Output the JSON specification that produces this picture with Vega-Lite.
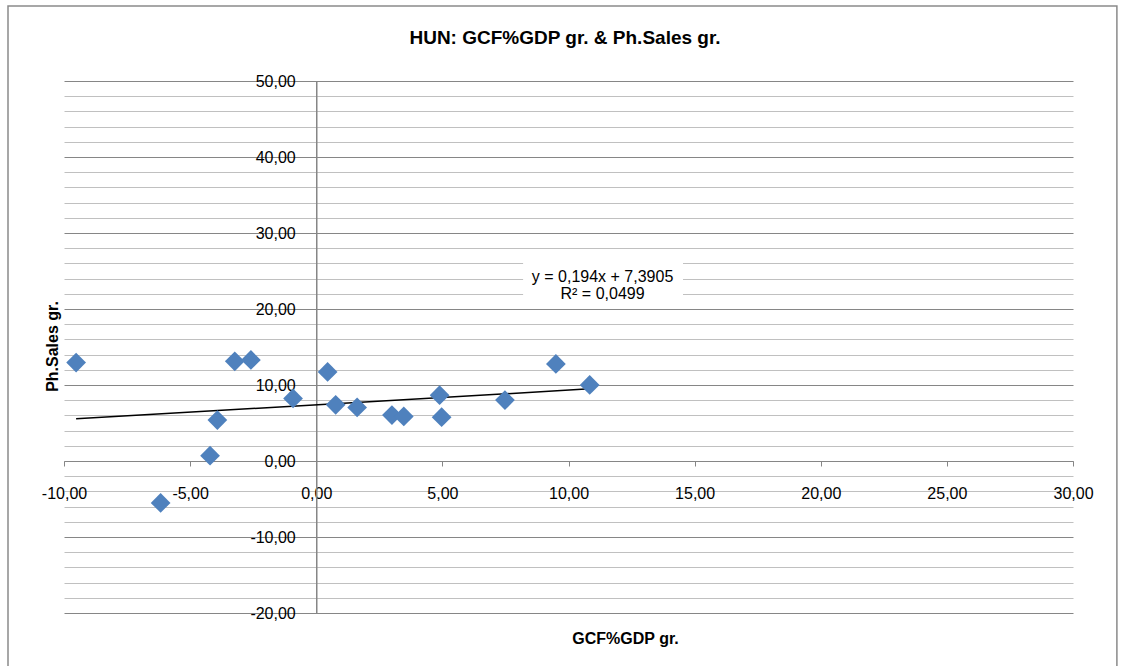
{
  "$schema": "https://vega.github.io/schema/vega-lite/v6.json",
  "width": 1009,
  "height": 532,
  "autosize": {"type": "none"},
  "padding": {"left": 64, "top": 81, "right": 52, "bottom": 53},
  "background": "white",
  "title": {
    "text": "HUN: GCF%GDP gr. & Ph.Sales gr.",
    "font": "Liberation Sans",
    "fontSize": 19,
    "fontWeight": "bold",
    "color": "#000000",
    "anchor": "middle",
    "frame": "group",
    "baseline": "alphabetic",
    "dx": -3.5,
    "offset": -57.5
  },
  "datasets": {
    "sales": [
      {"gcf": -9.52, "sales": 12.95},
      {"gcf": -6.17, "sales": -5.51},
      {"gcf": -4.21, "sales": 0.70},
      {"gcf": -3.92, "sales": 5.38},
      {"gcf": -3.23, "sales": 13.12},
      {"gcf": -2.59, "sales": 13.29},
      {"gcf": -0.92, "sales": 8.23},
      {"gcf": 0.45, "sales": 11.72},
      {"gcf": 0.77, "sales": 7.39},
      {"gcf": 1.62, "sales": 7.05},
      {"gcf": 3.00, "sales": 6.04},
      {"gcf": 3.47, "sales": 5.87},
      {"gcf": 4.89, "sales": 8.66},
      {"gcf": 4.97, "sales": 5.77},
      {"gcf": 7.48, "sales": 8.01},
      {"gcf": 9.50, "sales": 12.77},
      {"gcf": 10.84, "sales": 10.01}
    ],
    "trend": [
      {"gcf": -9.52, "sales": 5.544},
      {"gcf": 10.84, "sales": 9.493}
    ],
    "equation": [
      {"line": 1, "label": "y = 0,194x + 7,3905"},
      {"line": 2, "label": "R² = 0,0499"}
    ],
    "frame": [{"part": "chart area"}]
  },
  "layer": [
    {
      "data": {"name": "frame"},
      "mark": {"type": "rect", "fill": "white", "fillOpacity": 0, "stroke": "#8a8a8a", "strokeWidth": 1.5},
      "encoding": {
        "x": {"datum": -12.22, "type": "quantitative",
          "axis": {"title": "GCF%GDP gr.", "titleX": 561, "titleY": 182, "titleBaseline": "alphabetic", "titleAlign": "center", "offset": {"expr": "scale('y', 0) - height"}, "values": [-10, -5, 0, 5, 10, 15, 20, 25, 30], "format": ".2f", "grid": false, "domainColor": "#868686", "domainWidth": 1, "ticks": true, "tickSize": 5, "tickColor": "#868686", "tickWidth": 1, "labelPadding": 27, "labelBaseline": "middle", "labelFlush": false, "labelOverlap": false}},
        "x2": {"datum": 31.74},
        "y": {"datum": 59.87, "type": "quantitative",
          "axis": {"title": "Ph.Sales gr.", "titleX": -259, "titleY": 265, "titleBaseline": "alphabetic", "titleAlign": "center", "titleAngle": -90, "offset": {"expr": "-scale('x', 0)"}, "values": [-20, -18, -16, -14, -12, -10, -8, -6, -4, -2, 0, 2, 4, 6, 8, 10, 12, 14, 16, 18, 20, 22, 24, 26, 28, 30, 32, 34, 36, 38, 40, 42, 44, 46, 48, 50], "format": ".2f", "labelExpr": "datum.value % 10 === 0 ? datum.label : ''", "grid": true, "gridColor": {"condition": {"test": "datum.value % 10 === 0", "value": "#868686"}, "value": "#c0c0c0"}, "gridWidth": 1, "domainColor": "#868686", "domainWidth": 1.5, "ticks": false, "tickSize": 0, "labelPadding": 21, "labelBaseline": "middle", "labelFlush": false, "labelOverlap": false}},
        "y2": {"datum": -27.24}
      }
    },
    {
      "data": {"name": "frame"},
      "mark": {"type": "rect", "fill": "white", "strokeWidth": 0},
      "encoding": {
        "x": {"datum": 8.2, "type": "quantitative",
          "axis": {"title": "GCF%GDP gr.", "titleX": 561, "titleY": 182, "titleBaseline": "alphabetic", "titleAlign": "center", "offset": {"expr": "scale('y', 0) - height"}, "values": [-10, -5, 0, 5, 10, 15, 20, 25, 30], "format": ".2f", "grid": false, "domainColor": "#868686", "domainWidth": 1, "ticks": true, "tickSize": 5, "tickColor": "#868686", "tickWidth": 1, "labelPadding": 27, "labelBaseline": "middle", "labelFlush": false, "labelOverlap": false}},
        "x2": {"datum": 14.54},
        "y": {"datum": 26.84, "type": "quantitative",
          "axis": {"title": "Ph.Sales gr.", "titleX": -259, "titleY": 265, "titleBaseline": "alphabetic", "titleAlign": "center", "titleAngle": -90, "offset": {"expr": "-scale('x', 0)"}, "values": [-20, -18, -16, -14, -12, -10, -8, -6, -4, -2, 0, 2, 4, 6, 8, 10, 12, 14, 16, 18, 20, 22, 24, 26, 28, 30, 32, 34, 36, 38, 40, 42, 44, 46, 48, 50], "format": ".2f", "labelExpr": "datum.value % 10 === 0 ? datum.label : ''", "grid": true, "gridColor": {"condition": {"test": "datum.value % 10 === 0", "value": "#868686"}, "value": "#c0c0c0"}, "gridWidth": 1, "domainColor": "#868686", "domainWidth": 1.5, "ticks": false, "tickSize": 0, "labelPadding": 21, "labelBaseline": "middle", "labelFlush": false, "labelOverlap": false}},
        "y2": {"datum": 21.05}
      }
    },
    {
      "data": {"name": "trend"},
      "mark": {"type": "line", "color": "#000000", "strokeWidth": 1.5},
      "encoding": {
        "x": {"field": "gcf", "type": "quantitative",
          "axis": {"title": "GCF%GDP gr.", "titleX": 561, "titleY": 182, "titleBaseline": "alphabetic", "titleAlign": "center", "offset": {"expr": "scale('y', 0) - height"}, "values": [-10, -5, 0, 5, 10, 15, 20, 25, 30], "format": ".2f", "grid": false, "domainColor": "#868686", "domainWidth": 1, "ticks": true, "tickSize": 5, "tickColor": "#868686", "tickWidth": 1, "labelPadding": 27, "labelBaseline": "middle", "labelFlush": false, "labelOverlap": false}},
        "y": {"field": "sales", "type": "quantitative",
          "axis": {"title": "Ph.Sales gr.", "titleX": -259, "titleY": 265, "titleBaseline": "alphabetic", "titleAlign": "center", "titleAngle": -90, "offset": {"expr": "-scale('x', 0)"}, "values": [-20, -18, -16, -14, -12, -10, -8, -6, -4, -2, 0, 2, 4, 6, 8, 10, 12, 14, 16, 18, 20, 22, 24, 26, 28, 30, 32, 34, 36, 38, 40, 42, 44, 46, 48, 50], "format": ".2f", "labelExpr": "datum.value % 10 === 0 ? datum.label : ''", "grid": true, "gridColor": {"condition": {"test": "datum.value % 10 === 0", "value": "#868686"}, "value": "#c0c0c0"}, "gridWidth": 1, "domainColor": "#868686", "domainWidth": 1.5, "ticks": false, "tickSize": 0, "labelPadding": 21, "labelBaseline": "middle", "labelFlush": false, "labelOverlap": false}}
      }
    },
    {
      "data": {"name": "sales"},
      "mark": {"type": "point", "shape": "diamond", "size": 390, "filled": true, "fill": "#4f81bd", "opacity": 1, "strokeWidth": 0},
      "encoding": {
        "x": {"field": "gcf", "type": "quantitative",
          "scale": {"domain": [-10, 30], "nice": false, "zero": false},
          "axis": {"title": "GCF%GDP gr.", "titleX": 561, "titleY": 182, "titleBaseline": "alphabetic", "titleAlign": "center", "offset": {"expr": "scale('y', 0) - height"}, "values": [-10, -5, 0, 5, 10, 15, 20, 25, 30], "format": ".2f", "grid": false, "domainColor": "#868686", "domainWidth": 1, "ticks": true, "tickSize": 5, "tickColor": "#868686", "tickWidth": 1, "labelPadding": 27, "labelBaseline": "middle", "labelFlush": false, "labelOverlap": false}},
        "y": {"field": "sales", "type": "quantitative",
          "scale": {"domain": [-20, 50], "nice": false, "zero": false},
          "axis": {"title": "Ph.Sales gr.", "titleX": -259, "titleY": 265, "titleBaseline": "alphabetic", "titleAlign": "center", "titleAngle": -90, "offset": {"expr": "-scale('x', 0)"}, "values": [-20, -18, -16, -14, -12, -10, -8, -6, -4, -2, 0, 2, 4, 6, 8, 10, 12, 14, 16, 18, 20, 22, 24, 26, 28, 30, 32, 34, 36, 38, 40, 42, 44, 46, 48, 50], "format": ".2f", "labelExpr": "datum.value % 10 === 0 ? datum.label : ''", "grid": true, "gridColor": {"condition": {"test": "datum.value % 10 === 0", "value": "#868686"}, "value": "#c0c0c0"}, "gridWidth": 1, "domainColor": "#868686", "domainWidth": 1.5, "ticks": false, "tickSize": 0, "labelPadding": 21, "labelBaseline": "middle", "labelFlush": false, "labelOverlap": false}}
      }
    },
    {
      "data": {"name": "equation"},
      "mark": {
        "type": "text",
        "font": "Liberation Sans",
        "fontSize": 16,
        "color": "#000000",
        "align": "center",
        "baseline": "alphabetic",
        "dy": {"expr": "(datum.line - 1) * 17.3"}
      },
      "encoding": {
        "x": {"datum": 11.35, "type": "quantitative",
          "axis": {"title": "GCF%GDP gr.", "titleX": 561, "titleY": 182, "titleBaseline": "alphabetic", "titleAlign": "center", "offset": {"expr": "scale('y', 0) - height"}, "values": [-10, -5, 0, 5, 10, 15, 20, 25, 30], "format": ".2f", "grid": false, "domainColor": "#868686", "domainWidth": 1, "ticks": true, "tickSize": 5, "tickColor": "#868686", "tickWidth": 1, "labelPadding": 27, "labelBaseline": "middle", "labelFlush": false, "labelOverlap": false}},
        "y": {"datum": 23.59, "type": "quantitative",
          "axis": {"title": "Ph.Sales gr.", "titleX": -259, "titleY": 265, "titleBaseline": "alphabetic", "titleAlign": "center", "titleAngle": -90, "offset": {"expr": "-scale('x', 0)"}, "values": [-20, -18, -16, -14, -12, -10, -8, -6, -4, -2, 0, 2, 4, 6, 8, 10, 12, 14, 16, 18, 20, 22, 24, 26, 28, 30, 32, 34, 36, 38, 40, 42, 44, 46, 48, 50], "format": ".2f", "labelExpr": "datum.value % 10 === 0 ? datum.label : ''", "grid": true, "gridColor": {"condition": {"test": "datum.value % 10 === 0", "value": "#868686"}, "value": "#c0c0c0"}, "gridWidth": 1, "domainColor": "#868686", "domainWidth": 1.5, "ticks": false, "tickSize": 0, "labelPadding": 21, "labelBaseline": "middle", "labelFlush": false, "labelOverlap": false}},
        "text": {"field": "label", "type": "nominal"}
      }
    }
  ],
  "config": {
    "locale": {
      "number": {
        "decimal": ",",
        "thousands": ".",
        "grouping": [3],
        "currency": ["", " €"],
        "minus": "-"
      }
    },
    "view": {"stroke": null},
    "axis": {
      "labelFont": "Liberation Sans",
      "labelFontSize": 16,
      "labelColor": "#000000",
      "titleFont": "Liberation Sans",
      "titleFontSize": 16,
      "titleFontWeight": "bold",
      "titleColor": "#000000"
    }
  }
}
